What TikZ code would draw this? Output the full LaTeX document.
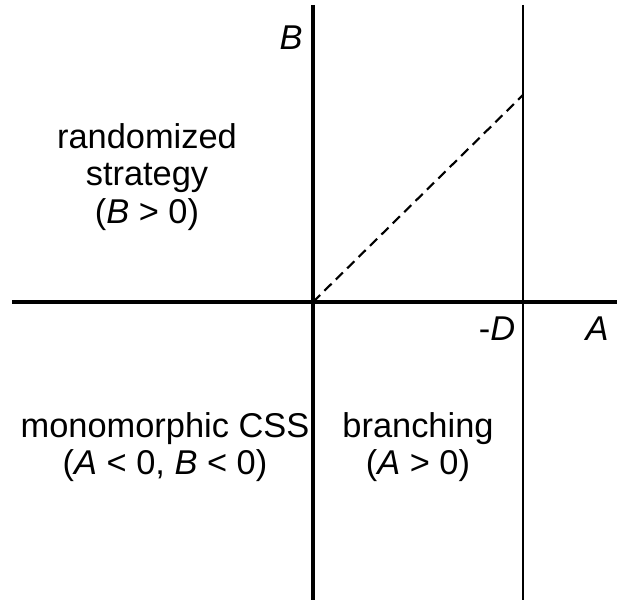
\documentclass[tikz,border=0pt]{standalone}
\usepackage{fontspec}
\setmainfont{Liberation Sans}
\begin{document}
\begin{tikzpicture}[x=0.75pt,y=-0.75pt,
  axis/.style={line width=2.4pt},
  lbl/.style={font=\fontsize{25.8}{28}\selectfont, inner sep=0pt, align=center}]
\useasboundingbox (0,0) rectangle (617,602);
\coordinate (hl) at (12,302);
\coordinate (hr) at (617,302);
\coordinate (vt) at (313,5);
\coordinate (vb) at (313,600);
\coordinate (o) at (313,302);
\coordinate (dt) at (523,5);
\coordinate (db) at (523,600);
\coordinate (de) at (523,95);
\draw[axis] (hl) -- (hr);
\draw[axis] (vt) -- (vb);
\draw[line width=1.6pt] (dt) -- (db);
\draw[line width=1.6pt, dash pattern=on 7.5pt off 4.5pt] (o) -- (de);
\node[lbl] (B) at (291,38) {\itshape B};
\node[lbl] (D) at (497,329) {-\itshape D};
\node[lbl] (A) at (597,329) {\itshape A};
\node[lbl] (rs) at (147,177) {randomized\\strategy\\(\textit{B} > 0)};
\node[lbl] (mc) at (165,447) {monomorphic CSS\\(\textit{A} < 0, \textit{B} < 0)};
\node[lbl] (br) at (418,447) {branching\\(\textit{A} > 0)};
\end{tikzpicture}
\end{document}
